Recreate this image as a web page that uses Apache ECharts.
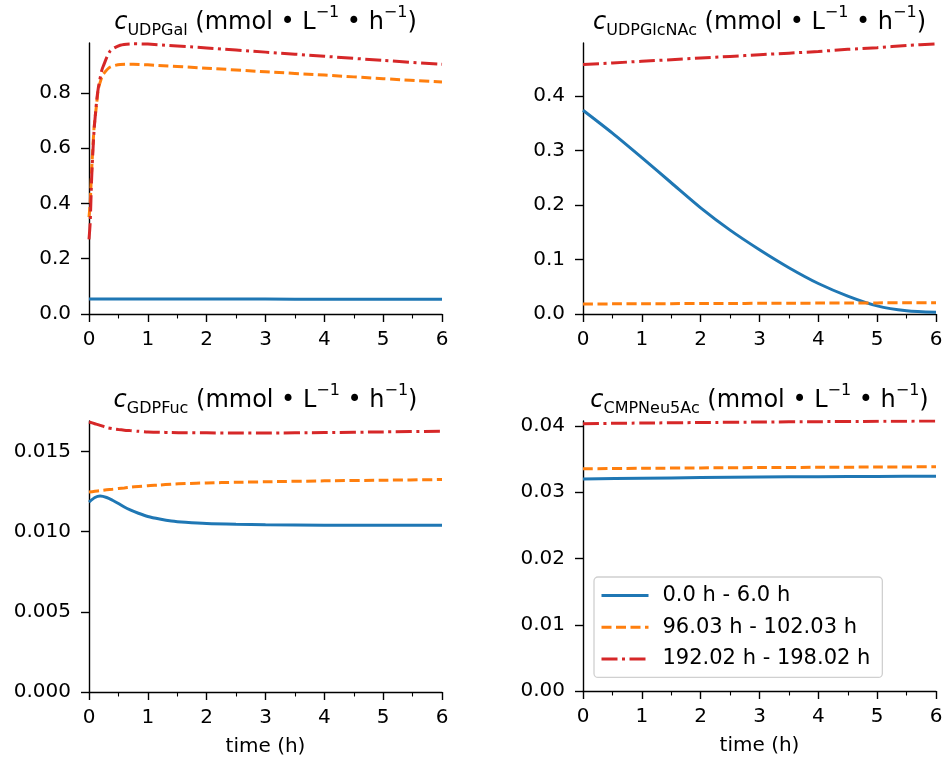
<!DOCTYPE html>
<html><head><meta charset="utf-8">
<script src="https://cdn.jsdelivr.net/npm/echarts@6/dist/echarts.min.js"></script>
<style>html,body{margin:0;padding:0;background:#fff}#c{width:946px;height:767px}</style>
</head><body><div id="c"></div>
<script>
const seriesNames = ['0.0 h - 6.0 h', '96.03 h - 102.03 h', '192.02 h - 198.02 h'];
const panelSubscripts = ['UDPGal', 'UDPGlcNAc', 'GDPFuc', 'CMPNeu5Ac'];
const xTickValues = [0, 1, 2, 3, 4, 5, 6];
const xAxisLabel = 'time (h)';

// Panel 1: UDPGal
const galTime = [0, 0.02, 0.045, 0.085, 0.13, 0.16, 0.215, 0.24, 0.36, 0.53, 0.75, 1.0, 2, 3, 4, 5, 6];
const galRun1 = [0.0545, 0.0545, 0.0545, 0.0545, 0.0545, 0.0545, 0.0545, 0.0545, 0.0545, 0.0545, 0.0545, 0.0544, 0.0542, 0.0539, 0.0536, 0.0533, 0.0531];
const galRun2 = [0.35, 0.40, 0.52, 0.67, 0.76, 0.815, 0.855, 0.867, 0.893, 0.902, 0.903, 0.901, 0.889, 0.876, 0.864, 0.851, 0.839];
const galRun3 = [0.27, 0.33, 0.49, 0.66, 0.77, 0.82, 0.879, 0.895, 0.951, 0.972, 0.977, 0.976, 0.962, 0.947, 0.932, 0.917, 0.903];
const galTicks = [0, 0.2, 0.4, 0.6, 0.8];

// Panel 2: UDPGlcNAc
const glcTime = [0, 0.5, 1, 1.5, 2, 2.5, 3, 3.5, 4, 4.5, 5, 5.5, 6];
const glcRun1 = [0.374, 0.332, 0.287, 0.241, 0.195, 0.154, 0.118, 0.085, 0.056, 0.033, 0.015, 0.006, 0.003];
const glcRun2 = [0.0184, 0.0186, 0.0188, 0.0190, 0.0192, 0.0194, 0.0196, 0.0198, 0.0200, 0.0202, 0.0204, 0.0206, 0.0208];
const glcRun3 = [0.458, 0.461, 0.464, 0.467, 0.470, 0.473, 0.476, 0.479, 0.482, 0.486, 0.489, 0.493, 0.496];
const glcTicks = [0, 0.1, 0.2, 0.3, 0.4];

// Panel 3: GDPFuc
const fucTime = [0, 0.1, 0.19, 0.3, 0.4, 0.5, 0.6, 0.7, 0.84, 1.0, 1.2, 1.4, 1.64, 2.0, 2.5, 3, 4, 5, 6];
const fucRun1 = [0.01184, 0.01212, 0.01221, 0.01212, 0.01195, 0.01175, 0.01153, 0.01135, 0.01114, 0.01094, 0.01078, 0.01066, 0.01058, 0.01050, 0.01045, 0.01042, 0.01040, 0.01039, 0.01039];
const fucRun2 = [0.01246, 0.01251, 0.01255, 0.01260, 0.01264, 0.01268, 0.01272, 0.01276, 0.01281, 0.01286, 0.01290, 0.01295, 0.01299, 0.01303, 0.01307, 0.01310, 0.01316, 0.01320, 0.01324];
const fucRun3 = [0.01683, 0.01672, 0.01662, 0.01648, 0.01641, 0.01636, 0.01632, 0.01629, 0.01625, 0.01621, 0.01619, 0.01617, 0.01616, 0.01615, 0.01614, 0.01614, 0.01617, 0.01621, 0.01625];
const fucTicks = [0, 0.005, 0.010, 0.015];

// Panel 4: CMPNeu5Ac
const neuTime = [0, 1, 2, 3, 4, 5, 6];
const neuRun1 = [0.0320, 0.03212, 0.03222, 0.0323, 0.03236, 0.0324, 0.03243];
const neuRun2 = [0.03355, 0.03362, 0.03368, 0.03373, 0.03377, 0.03381, 0.03385];
const neuRun3 = [0.04036, 0.04045, 0.04053, 0.0406, 0.04066, 0.04071, 0.04076];
const neuTicks = [0, 0.01, 0.02, 0.03, 0.04];

const yMaxes = [0.98, 0.4976, 0.01689, 0.04076];
const yDecimals = [1, 1, 3, 2];

const panels = [
  {time: galTime, runs: [galRun1, galRun2, galRun3], ticks: galTicks},
  {time: glcTime, runs: [glcRun1, glcRun2, glcRun3], ticks: glcTicks},
  {time: fucTime, runs: [fucRun1, fucRun2, fucRun3], ticks: fucTicks},
  {time: neuTime, runs: [neuRun1, neuRun2, neuRun3], ticks: neuTicks}
];

const FONT = 'DejaVu Sans';
const TICKFS = 20;
const colors = ['#1f77b4', '#ff7f0e', '#d62728'];
const dashes = ['solid', [10, 4.5], [16, 4.5, 3, 4.5]];
const gridRects = [
  {left: 89, top: 43, width: 353, height: 271},
  {left: 583, top: 43, width: 353, height: 271},
  {left: 89, top: 421, width: 353, height: 271},
  {left: 583, top: 421, width: 353, height: 270}
];

const grids = [], xAxes = [], yAxes = [], series = [], titles = [];
panels.forEach((p, i) => {
  const g = gridRects[i];
  grids.push({left: g.left, top: g.top, width: g.width, height: g.height, containLabel: false});
  xAxes.push({
    type: 'value', gridIndex: i, min: 0, max: 6, interval: 1,
    name: i >= 2 ? xAxisLabel : '', nameLocation: 'middle', nameGap: 45,
    nameTextStyle: {fontFamily: FONT, fontSize: TICKFS, color: '#000'},
    axisLine: {show: true, onZero: false, lineStyle: {color: '#000', width: 1.4}},
    axisTick: {show: true, length: 8, lineStyle: {color: '#000', width: 1.4}, customValues: xTickValues},
    minorTick: {show: true, splitNumber: 2, length: 4.5, lineStyle: {color: '#000', width: 1.1}},
    axisLabel: {fontFamily: FONT, fontSize: TICKFS, color: '#000', margin: 16, customValues: xTickValues,
      formatter: v => String(v)},
    splitLine: {show: false}
  });
  yAxes.push({
    type: 'value', gridIndex: i, min: 0, max: yMaxes[i],
    axisLine: {show: true, onZero: false, lineStyle: {color: '#000', width: 1.4}},
    axisTick: {show: true, length: 8, lineStyle: {color: '#000', width: 1.4}, customValues: p.ticks},
    axisLabel: {fontFamily: FONT, fontSize: TICKFS, color: '#000', margin: 18, customValues: p.ticks,
      formatter: v => v.toFixed(yDecimals[i])},
    splitLine: {show: false}
  });
  titles.push({
    text: '{c|c}{s|' + panelSubscripts[i] + '}{m| (mmol • L}{p|−1}{m| • h}{p|−1}{m|)}',
    left: g.left + g.width / 2, textAlign: 'center',
    top: i < 2 ? 5 : 383, padding: 0,
    textStyle: {
      fontWeight: 'normal',
      rich: {
        c: {fontFamily: FONT, fontSize: 24, fontStyle: 'italic', fontWeight: 'normal', color: '#000'},
        s: {fontFamily: FONT, fontSize: 16, fontWeight: 'normal', color: '#000', padding: [17, 0, 0, 0]},
        m: {fontFamily: FONT, fontSize: 24, fontWeight: 'normal', color: '#000'},
        p: {fontFamily: FONT, fontSize: 16, fontWeight: 'normal', color: '#000', padding: [0, 0, 19, 0]}
      }
    }
  });
  p.runs.forEach((run, k) => {
    series.push({
      name: seriesNames[k], type: 'line', xAxisIndex: i, yAxisIndex: i,
      data: p.time.map((t, j) => [t, run[j]]),
      symbol: 'none', smooth: 0.25, clip: true, animation: false,
      lineStyle: {color: colors[k], width: 3, type: dashes[k]},
      itemStyle: {color: colors[k]}, z: 2 + k
    });
  });
});

const chart = echarts.init(document.getElementById('c'), null, {renderer: 'canvas'});
chart.setOption({
  backgroundColor: '#fff',
  animation: false,
  title: titles,
  grid: grids, xAxis: xAxes, yAxis: yAxes, series: series,
  legend: {
    data: seriesNames, orient: 'vertical', left: 594, top: 577,
    padding: [8, 12, 8, 6], itemWidth: 47, itemHeight: 18, itemGap: 10.7,
    backgroundColor: '#fff', borderColor: '#d0d0d0', borderWidth: 1.3, borderRadius: 4,
    selectedMode: false,
    itemStyle: {opacity: 0, borderWidth: 0},
    lineStyle: {width: 3},
    textStyle: {fontFamily: FONT, fontSize: 21, color: '#000', padding: [0, 0, 0, 9], lineHeight: 18}
  }
});
</script></body></html>
